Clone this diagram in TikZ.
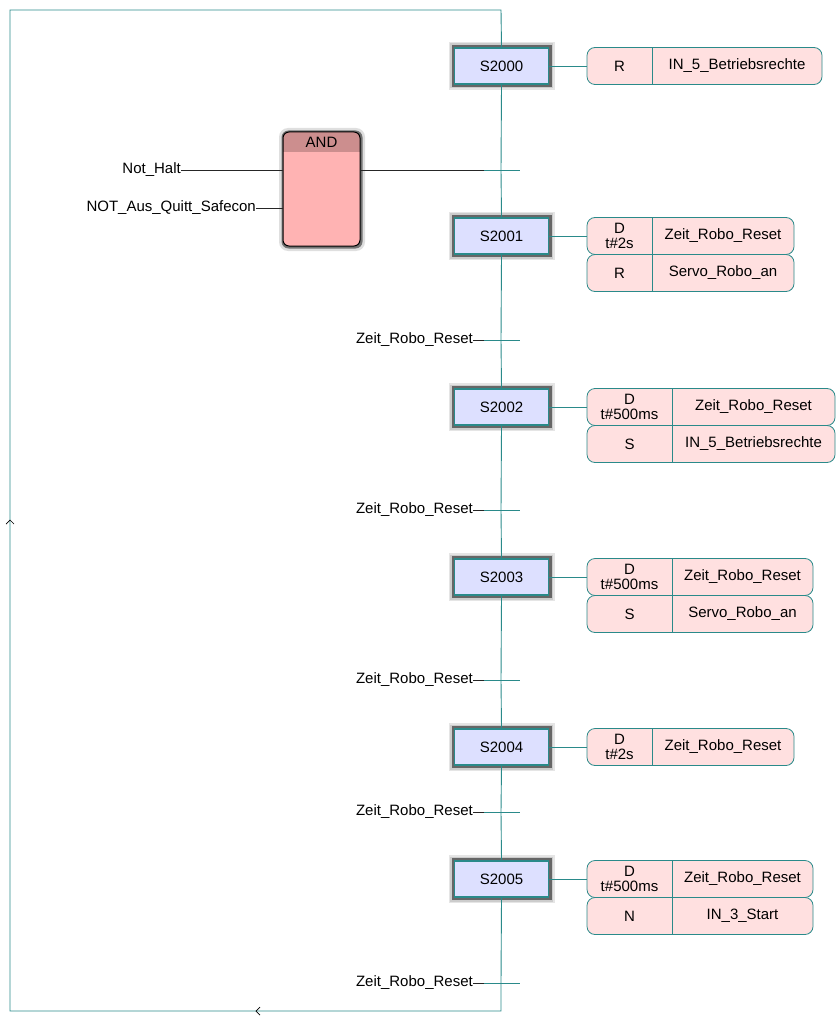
\documentclass[tikz,border=0pt]{standalone}
\usepackage{fontspec}
\setmainfont{Liberation Sans}
\definecolor{sfcline}{HTML}{2A8A8A}
\definecolor{stepfill}{HTML}{DDE0FF}
\definecolor{actfill}{HTML}{FFE0E0}
\definecolor{andbody}{HTML}{FFB3B3}
\definecolor{andhead}{HTML}{CC8E8E}
\begin{document}
\begin{tikzpicture}[x=1pt,y=-1pt,
  font=\fontsize{15}{15.5}\selectfont,
  flow/.style={draw=sfcline, line width=0.9pt},
  wire/.style={draw=black!85, line width=0.8pt},
  stepbox/.style={draw=sfcline, line width=1.6pt, fill=stepfill,
    minimum width=94pt, minimum height=36pt, inner sep=0pt},
  actrow/.style={draw=sfcline, line width=0.8pt, fill=actfill,
    rounded corners=8pt, inner sep=0pt, minimum height=37pt},
  lbl/.style={inner sep=0pt, anchor=east},
  celltext/.style={inner sep=0pt, align=center, font=\fontsize{15}{15.5}\selectfont},
  chev/.style={draw=black, line width=0.7pt}
]
\useasboundingbox (0,0) rectangle (836,1016);

% frame corners of the loop-back line
\coordinate (top) at (501,10);
\coordinate (tl) at (10,10);
\coordinate (bl) at (10,1011);
\coordinate (br) at (501,1011);

% transition points on the main line
\foreach \i/\y in {1/170,2/340,3/510,4/680,5/812,6/983}
  \coordinate (t\i) at (501,\y);

% step boxes with their shadow
\foreach \n/\y in {S2000/66,S2001/236,S2002/407,S2003/577,S2004/747,S2005/879}{
  \fill[gray!20] (501.5-53,\y-24) rectangle (501.5+53,\y+24);
  \fill[gray!40] (501.5-51.5,\y-22.5) rectangle (501.5+51.5,\y+22.5);
  \fill[black!60] (501.5-50,\y-21) rectangle (501.5+50,\y+21);
  \node[stepbox] (\n) at (501.5,\y) {\n};
}

% main sequence line
\draw[flow] (S2000.south) -- (t1) -- (S2001.north);
\draw[flow] (S2001.south) -- (t2) -- (S2002.north);
\draw[flow] (S2002.south) -- (t3) -- (S2003.north);
\draw[flow] (S2003.south) -- (t4) -- (S2004.north);
\draw[flow] (S2004.south) -- (t5) -- (S2005.north);
\draw[flow] (S2005.south) -- (t6) -- (br) -- (bl) -- (tl) -- (top) -- (S2000.north);

% direction marks on the loop-back line
\draw[chev] (6,524) -- (10,520) -- (14,524);
\draw[chev] (260,1007) -- (256,1011) -- (260,1015);

% transition bars
\foreach \i in {1,...,6}
  \draw[flow] ([xshift=-17pt]t\i) -- ([xshift=19pt]t\i);

% transition conditions
\foreach \i in {2,...,6}{
  \node[lbl] (c\i) at ([xshift=-28pt]t\i) {Zeit\_Robo\_Reset};
  \draw[wire] (c\i.east) -- ([xshift=-17pt]t\i);
}

% AND block
\fill[gray!25, rounded corners=9pt] (279,128) rectangle (365,251);
\fill[black!55, rounded corners=7pt] (281.5,130.5) rectangle (362.5,248.5);
\begin{scope}
  \clip[rounded corners=6pt] (283,132) rectangle (360,246);
  \fill[andbody] (283,132) rectangle (360,246);
  \fill[andhead] (283,132) rectangle (360,152);
\end{scope}
\node[draw=black, line width=1pt, rounded corners=6pt, minimum width=77pt,
  minimum height=114pt, inner sep=0pt] (and) at (321.5,189) {};
\node[celltext] (andlbl) at (321.5,142.5) {AND};

\node[lbl] (in1) at (181,170) {Not\_Halt};
\node[lbl] (in2) at (256,208) {NOT\_Aus\_Quitt\_Safecon};
\draw[wire] (in1.east) -- (in1.east -| and.west);
\draw[wire] (in2.east) -- (in2.east -| and.west);
\draw[wire] (and.east |- t1) -- ([xshift=-17pt]t1);

% action blocks: name / step / centre y / left x / divider x / right x / qualifier / variable
\foreach \a/\s/\y/\l/\d/\r/\q/\v in {
  a0/S2000/66/587/652/822/{R}/{IN\_5\_Betriebsrechte},
  a1/S2001/236/587/652/794/{D\\t\#2s}/{Zeit\_Robo\_Reset},
  a1b/S2001/273/587/652/794/{R}/{Servo\_Robo\_an},
  a2/S2002/407/587/672/835/{D\\t\#500ms}/{Zeit\_Robo\_Reset},
  a2b/S2002/444/587/672/835/{S}/{IN\_5\_Betriebsrechte},
  a3/S2003/577/587/672/813/{D\\t\#500ms}/{Zeit\_Robo\_Reset},
  a3b/S2003/614/587/672/813/{S}/{Servo\_Robo\_an},
  a4/S2004/747/587/652/794/{D\\t\#2s}/{Zeit\_Robo\_Reset},
  a5/S2005/879/587/672/813/{D\\t\#500ms}/{Zeit\_Robo\_Reset},
  a5b/S2005/916/587/672/813/{N}/{IN\_3\_Start}}{
  \node[actrow, minimum width=\r-\l] (\a) at ({(\l+\r)/2},\y) {};
  \draw[draw=sfcline, line width=0.8pt] (\d,\y-18.5) -- (\d,\y+18.5);
  \node[celltext] (\a q) at ({(\l+\d)/2},\y) {\q};
  \node[celltext] (\a v) at ({(\d+\r)/2},\y) {\v};
}

% step to action links
\foreach \s/\a in {S2000/a0,S2001/a1,S2002/a2,S2003/a3,S2004/a4,S2005/a5}
  \draw[flow] (\s.east) -- (\a.west);
\end{tikzpicture}
\end{document}
